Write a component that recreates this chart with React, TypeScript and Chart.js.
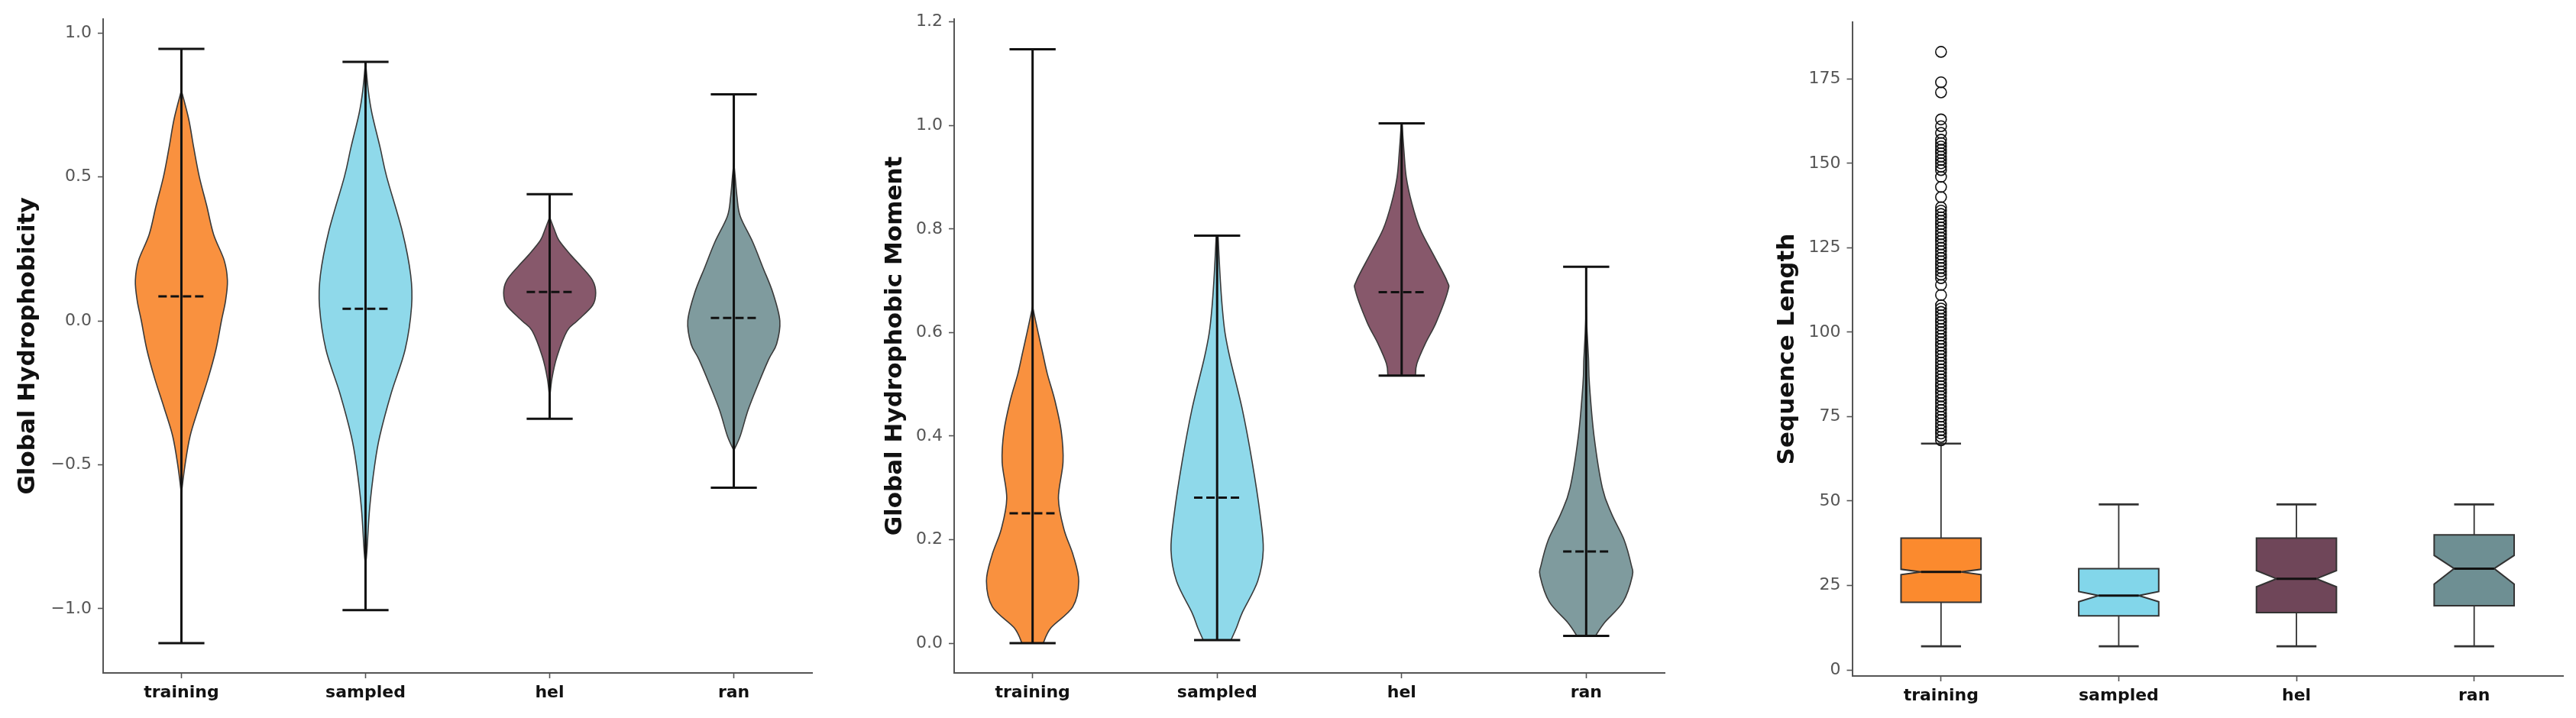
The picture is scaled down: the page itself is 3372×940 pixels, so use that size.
import { useEffect, useRef } from "react";
import { Chart, registerables } from "chart.js";

Chart.register(...registerables);
Chart.defaults.font.family = "'DejaVu Sans', sans-serif";

const categories = ["training", "sampled", "hel", "ran"];

// ---- Global Hydrophobicity (violins) ----
const hydroMin = [-1.12, -1.005, -0.34, -0.58];
const hydroMax = [0.945, 0.9, 0.44, 0.787];
const hydroMean = [0.085, 0.042, 0.1, 0.01];
const hydroTicks = [-1, -0.5, 0, 0.5, 1];
// density outline: levels and relative half-widths (1 = widest)
const hydroTrainingY = [-0.6, -0.5, -0.4, -0.3, -0.2, -0.1, 0.0, 0.07, 0.14, 0.21, 0.3, 0.4, 0.5, 0.6, 0.7, 0.8];
const hydroTrainingW = [0, 0.08, 0.19, 0.38, 0.58, 0.75, 0.87, 0.96, 1.0, 0.93, 0.7, 0.55, 0.39, 0.27, 0.16, 0];
const hydroSampledY = [-0.85, -0.8, -0.65, -0.5, -0.4, -0.25, -0.1, 0.05, 0.16, 0.31, 0.5, 0.6, 0.72, 0.8, 0.9];
const hydroSampledW = [0, 0.03, 0.09, 0.2, 0.31, 0.56, 0.86, 1.0, 0.98, 0.8, 0.46, 0.32, 0.14, 0.06, 0];
const hydroHelY = [-0.27, -0.2, -0.124, -0.035, 0.0, 0.053, 0.097, 0.141, 0.19, 0.23, 0.28, 0.318, 0.36];
const hydroHelW = [0, 0.05, 0.16, 0.38, 0.6, 0.93, 1.0, 0.93, 0.68, 0.45, 0.2, 0.1, 0];
const hydroRanY = [-0.45, -0.4, -0.31, -0.22, -0.133, -0.08, 0.0, 0.097, 0.186, 0.274, 0.363, 0.43, 0.5, 0.55];
const hydroRanW = [0, 0.14, 0.31, 0.53, 0.76, 0.93, 1.0, 0.85, 0.63, 0.41, 0.14, 0.07, 0.03, 0];

// ---- Global Hydrophobic Moment (violins) ----
const momentMin = [0.0, 0.006, 0.517, 0.014];
const momentMax = [1.147, 0.787, 1.004, 0.727];
const momentMean = [0.251, 0.281, 0.678, 0.177];
const momentTicks = [0, 0.2, 0.4, 0.6, 0.8, 1.0, 1.2];
const momentTrainingY = [0.0, 0.03, 0.07, 0.12, 0.17, 0.22, 0.28, 0.35, 0.41, 0.47, 0.52, 0.56, 0.6, 0.65];
const momentTrainingW = [0.23, 0.4, 0.87, 1.0, 0.88, 0.68, 0.56, 0.66, 0.62, 0.48, 0.32, 0.22, 0.12, 0];
const momentSampledY = [0.006, 0.03, 0.06, 0.12, 0.18, 0.25, 0.35, 0.45, 0.55, 0.6, 0.65, 0.7, 0.75, 0.787];
const momentSampledW = [0.3, 0.42, 0.55, 0.88, 1.0, 0.93, 0.76, 0.55, 0.28, 0.17, 0.11, 0.07, 0.04, 0.02];
const momentHelY = [0.517, 0.54, 0.58, 0.62, 0.68, 0.7, 0.75, 0.8, 0.85, 0.9, 0.95, 1.0];
const momentHelW = [0.3, 0.33, 0.52, 0.75, 1.0, 0.98, 0.69, 0.4, 0.22, 0.1, 0.05, 0.01];
const momentRanY = [0.014, 0.04, 0.08, 0.13, 0.15, 0.2, 0.25, 0.3, 0.4, 0.5, 0.55, 0.6, 0.65];
const momentRanW = [0.2, 0.4, 0.8, 1.0, 0.98, 0.82, 0.55, 0.35, 0.17, 0.07, 0.05, 0.02, 0];

// ---- Sequence Length (notched boxes) ----
const lenLow = [7, 7, 7, 7];
const lenQ1 = [20, 16, 17, 19];
const lenMedian = [29, 22, 27, 30];
const lenQ3 = [39, 30, 39, 40];
const lenHigh = [67, 49, 49, 49];
const lenNotchLo = [28.2, 20.2, 24.6, 25.4];
const lenNotchHi = [29.8, 23.2, 29.4, 33.9];
const lenTicks = [0, 25, 50, 75, 100, 125, 150, 175];
const trainingOutliers = [
  68, 69, 70, 71, 72, 73, 74, 75, 76, 77, 78, 79, 80, 81, 82, 83, 84, 85, 86, 87,
  88, 89, 90, 91, 92, 93, 94, 95, 96, 97, 98, 99, 100, 101, 102, 103, 104, 105, 106,
  107, 108, 111, 114, 116, 117, 118, 119, 120, 121, 122, 123, 124, 125, 126, 127,
  128, 129, 130, 131, 132, 133, 134, 135, 136, 137, 140, 143, 146, 148, 149, 150,
  151, 152, 153, 154, 155, 156, 157, 159, 161, 163, 171, 174, 183,
];

const violinFill = ["#F9913F", "#8FD9EA", "#87586B", "#7F9B9E"];
const boxFill = ["#FB8A2E", "#82D6EA", "#6F4659", "#6E8F93"];

type Pt = { x: number; y: number };

function curveThrough(ctx: CanvasRenderingContext2D, pts: Pt[]) {
  for (let i = 0; i < pts.length - 1; i++) {
    const p0 = pts[i - 1] || pts[i];
    const p1 = pts[i];
    const p2 = pts[i + 1];
    const p3 = pts[i + 2] || pts[i + 1];
    ctx.bezierCurveTo(
      p1.x + (p2.x - p0.x) / 6,
      p1.y + (p2.y - p0.y) / 6,
      p2.x - (p3.x - p1.x) / 6,
      p2.y - (p3.y - p1.y) / 6,
      p2.x,
      p2.y
    );
  }
}

type ViolinSet = {
  ys: number[][];
  ws: number[][];
  mins: number[];
  maxs: number[];
  means: number[];
};

function violinPlugin(set: ViolinSet) {
  return {
    id: "violins",
    afterDatasetsDraw(chart: Chart) {
      const { ctx } = chart;
      const xs = chart.scales.x;
      const ys = chart.scales.y;
      const half = 0.25;
      const cap = 0.125;
      ctx.save();
      set.ys.forEach((levels, i) => {
        const w = set.ws[i];
        const right = levels.map((v, k) => ({
          x: xs.getPixelForValue(i + w[k] * half),
          y: ys.getPixelForValue(v),
        }));
        const left = levels
          .map((v, k) => ({
            x: xs.getPixelForValue(i - w[k] * half),
            y: ys.getPixelForValue(v),
          }))
          .reverse();
        ctx.beginPath();
        ctx.moveTo(right[0].x, right[0].y);
        curveThrough(ctx, right);
        ctx.lineTo(left[0].x, left[0].y);
        curveThrough(ctx, left);
        ctx.closePath();
        ctx.fillStyle = violinFill[i];
        ctx.fill();
        ctx.strokeStyle = "#3a3a3a";
        ctx.lineWidth = 1.6;
        ctx.stroke();
      });
      ctx.strokeStyle = "#111";
      ctx.lineWidth = 3;
      set.mins.forEach((lo, i) => {
        const hi = set.maxs[i];
        const cx = xs.getPixelForValue(i);
        const l = xs.getPixelForValue(i - cap);
        const r = xs.getPixelForValue(i + cap);
        const yLo = ys.getPixelForValue(lo);
        const yHi = ys.getPixelForValue(hi);
        ctx.setLineDash([]);
        ctx.beginPath();
        ctx.moveTo(cx, yLo);
        ctx.lineTo(cx, yHi);
        ctx.moveTo(l, yLo);
        ctx.lineTo(r, yLo);
        ctx.moveTo(l, yHi);
        ctx.lineTo(r, yHi);
        ctx.stroke();
        const ym = ys.getPixelForValue(set.means[i]);
        ctx.setLineDash([11, 5]);
        ctx.beginPath();
        ctx.moveTo(l, ym);
        ctx.lineTo(r, ym);
        ctx.stroke();
      });
      ctx.restore();
    },
  };
}

const boxPlugin = {
  id: "boxes",
  beforeDatasetsDraw(chart: Chart) {
    const { ctx } = chart;
    const xs = chart.scales.x;
    const ys = chart.scales.y;
    const h = 0.225;
    const n = 0.1125;
    const px = (v: number) => xs.getPixelForValue(v);
    const py = (v: number) => ys.getPixelForValue(v);
    ctx.save();
    lenMedian.forEach((med, i) => {
      // whiskers and caps
      ctx.strokeStyle = "#333";
      ctx.lineWidth = 1.8;
      ctx.beginPath();
      ctx.moveTo(px(i), py(lenLow[i]));
      ctx.lineTo(px(i), py(lenQ1[i]));
      ctx.moveTo(px(i), py(lenQ3[i]));
      ctx.lineTo(px(i), py(lenHigh[i]));
      ctx.stroke();
      ctx.lineWidth = 2.6;
      ctx.beginPath();
      ctx.moveTo(px(i - n), py(lenLow[i]));
      ctx.lineTo(px(i + n), py(lenLow[i]));
      ctx.moveTo(px(i - n), py(lenHigh[i]));
      ctx.lineTo(px(i + n), py(lenHigh[i]));
      ctx.stroke();
      // notched box
      const outline: [number, number][] = [
        [i - h, lenQ1[i]],
        [i + h, lenQ1[i]],
        [i + h, lenNotchLo[i]],
        [i + n, med],
        [i + h, lenNotchHi[i]],
        [i + h, lenQ3[i]],
        [i - h, lenQ3[i]],
        [i - h, lenNotchHi[i]],
        [i - n, med],
        [i - h, lenNotchLo[i]],
      ];
      ctx.beginPath();
      outline.forEach(([xv, yv], k) => {
        if (k === 0) ctx.moveTo(px(xv), py(yv));
        else ctx.lineTo(px(xv), py(yv));
      });
      ctx.closePath();
      ctx.fillStyle = boxFill[i];
      ctx.fill();
      ctx.strokeStyle = "#333";
      ctx.lineWidth = 2;
      ctx.stroke();
      ctx.strokeStyle = "#111";
      ctx.lineWidth = 3;
      ctx.beginPath();
      ctx.moveTo(px(i - n), py(med));
      ctx.lineTo(px(i + n), py(med));
      ctx.stroke();
    });
    ctx.restore();
  },
};

const minus = (s: string) => s.replace("-", "\u2212");

type PanelOpts = {
  xMin: number;
  xMax: number;
  yMin: number;
  yMax: number;
  yTicks: number[];
  fmt: (v: number) => string;
  title: string;
  titlePad: number;
  yWidth: number;
  xHeight: number;
  padding: { top: number; right: number; bottom: number; left: number };
};

function panelOptions(p: PanelOpts): any {
  const tickGrid = {
    display: true,
    drawOnChartArea: false,
    drawTicks: true,
    tickLength: 7,
    tickWidth: 1.6,
    tickColor: "#555",
  };
  const border = { display: true, color: "#555", width: 2 };
  return {
    animation: false,
    responsive: true,
    maintainAspectRatio: false,
    events: [],
    layout: { padding: p.padding },
    plugins: { legend: { display: false }, tooltip: { enabled: false } },
    scales: {
      x: {
        type: "linear",
        min: p.xMin,
        max: p.xMax,
        afterBuildTicks: (s: any) => {
          s.ticks = categories.map((_, i) => ({ value: i }));
        },
        afterFit: (s: any) => {
          s.height = p.xHeight;
        },
        ticks: {
          autoSkip: false,
          maxRotation: 0,
          padding: 6,
          color: "#111",
          font: { size: 22, weight: "bold" },
          callback: (v: number) => categories[v] ?? "",
        },
        grid: tickGrid,
        border,
      },
      y: {
        type: "linear",
        min: p.yMin,
        max: p.yMax,
        afterBuildTicks: (s: any) => {
          s.ticks = p.yTicks.map((v) => ({ value: v }));
        },
        afterFit: (s: any) => {
          s.width = p.yWidth;
        },
        ticks: {
          padding: 8,
          color: "#555",
          font: { size: 22 },
          callback: (v: number) => p.fmt(v),
        },
        grid: tickGrid,
        border,
        title: {
          display: true,
          text: p.title,
          color: "#111",
          font: { size: 31, weight: "bold" },
          padding: { top: p.titlePad, bottom: 0 },
        },
      },
    },
  };
}

function useChart(
  ref: React.RefObject<HTMLCanvasElement | null>,
  build: (ctx: CanvasRenderingContext2D) => Chart
) {
  useEffect(() => {
    const ctx = ref.current?.getContext("2d");
    if (!ctx) return;
    const chart = build(ctx);
    return () => chart.destroy();
  }, []);
}

function HydroPanel() {
  const ref = useRef<HTMLCanvasElement>(null);
  useChart(ref, (ctx) =>
    new Chart(ctx, {
      type: "scatter",
      data: {
        datasets: [
          {
            data: hydroMean.map((v, i) => ({ x: i, y: v })),
            pointRadius: 0,
          },
        ],
      },
      options: panelOptions({
        xMin: -0.425,
        xMax: 3.425,
        yMin: -1.2233,
        yMax: 1.0483,
        yTicks: hydroTicks,
        fmt: (v) => minus(v.toFixed(1)),
        title: "Global Hydrophobicity",
        titlePad: 18,
        yWidth: 135,
        xHeight: 59,
        padding: { top: 25, right: 37, bottom: 0, left: 0 },
      }),
      plugins: [
        violinPlugin({
          ys: [hydroTrainingY, hydroSampledY, hydroHelY, hydroRanY],
          ws: [hydroTrainingW, hydroSampledW, hydroHelW, hydroRanW],
          mins: hydroMin,
          maxs: hydroMax,
          means: hydroMean,
        }),
      ],
    })
  );
  return <canvas ref={ref} />;
}

function MomentPanel() {
  const ref = useRef<HTMLCanvasElement>(null);
  useChart(ref, (ctx) =>
    new Chart(ctx, {
      type: "scatter",
      data: {
        datasets: [
          {
            data: momentMean.map((v, i) => ({ x: i, y: v })),
            pointRadius: 0,
          },
        ],
      },
      options: panelOptions({
        xMin: -0.425,
        xMax: 3.425,
        yMin: -0.0574,
        yMax: 1.2054,
        yTicks: momentTicks,
        fmt: (v) => v.toFixed(1),
        title: "Global Hydrophobic Moment",
        titlePad: 53,
        yWidth: 149,
        xHeight: 59,
        padding: { top: 25, right: 21, bottom: 0, left: 0 },
      }),
      plugins: [
        violinPlugin({
          ys: [momentTrainingY, momentSampledY, momentHelY, momentRanY],
          ws: [momentTrainingW, momentSampledW, momentHelW, momentRanW],
          mins: momentMin,
          maxs: momentMax,
          means: momentMean,
        }),
      ],
    })
  );
  return <canvas ref={ref} />;
}

function LengthPanel() {
  const ref = useRef<HTMLCanvasElement>(null);
  useChart(ref, (ctx) =>
    new Chart(ctx, {
      type: "scatter",
      data: {
        datasets: [
          {
            data: trainingOutliers.map((v) => ({ x: 0, y: v })),
            pointRadius: 7,
            pointBorderWidth: 1.6,
            borderColor: "#111",
            backgroundColor: "rgba(0,0,0,0)",
          },
        ],
      },
      options: panelOptions({
        xMin: -0.5,
        xMax: 3.5,
        yMin: -1.8,
        yMax: 191.8,
        yTicks: lenTicks,
        fmt: (v) => String(v),
        title: "Sequence Length",
        titlePad: 121,
        yWidth: 224.5,
        xHeight: 55,
        padding: { top: 29, right: 17, bottom: 0, left: 0 },
      }),
      plugins: [boxPlugin],
    })
  );
  return <canvas ref={ref} />;
}

const box = (left: number, width: number): React.CSSProperties => ({
  position: "absolute",
  left,
  top: 0,
  width,
  height: 940,
});

export default function App() {
  return (
    <div
      style={{
        position: "absolute",
        left: 0,
        top: 0,
        width: 3372,
        height: 940,
        background: "#fff",
      }}
    >
      <div style={box(0, 1100)}>
        <HydroPanel />
      </div>
      <div style={box(1100, 1100)}>
        <MomentPanel />
      </div>
      <div style={box(2200, 1172)}>
        <LengthPanel />
      </div>
    </div>
  );
}
